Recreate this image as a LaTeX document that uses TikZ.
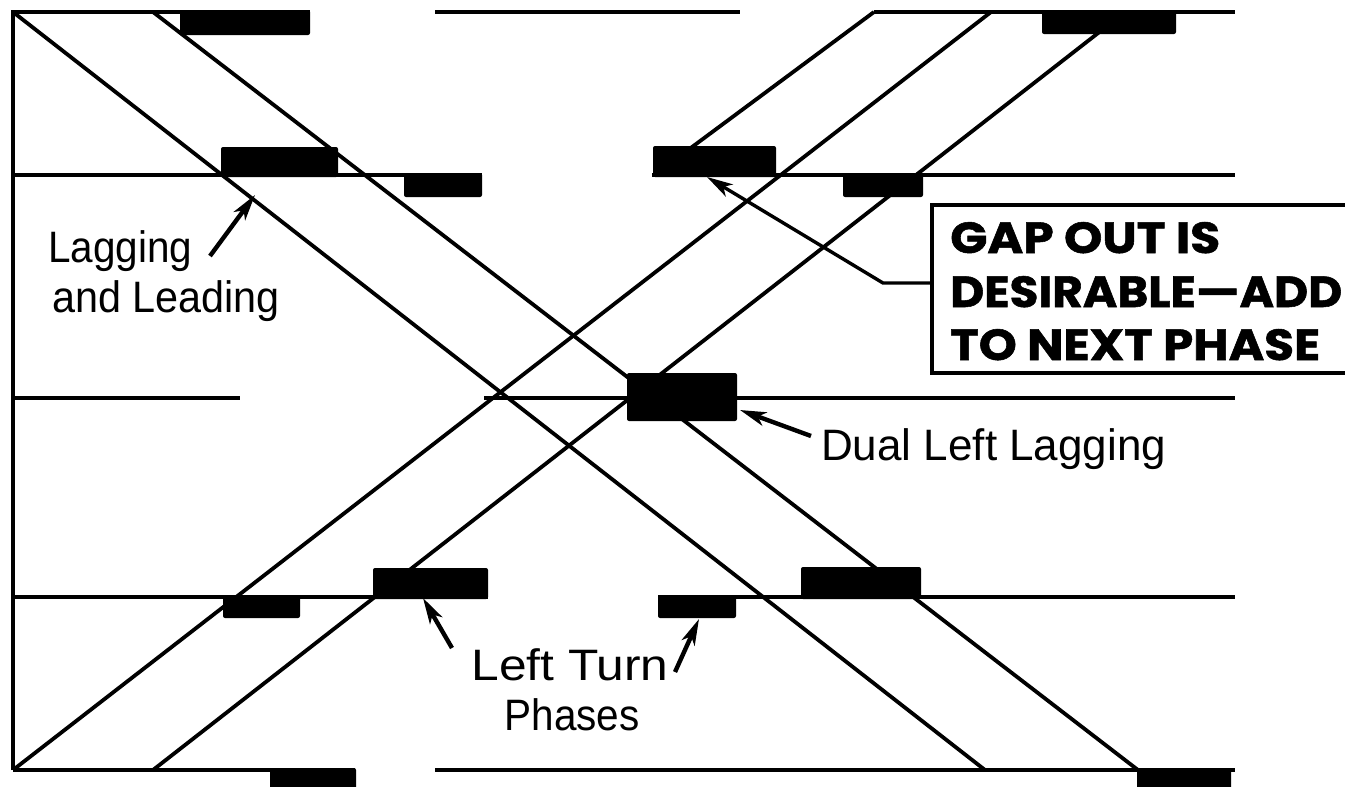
\documentclass[tikz,border=0pt]{standalone}
\usepackage{graphicx}
\usepackage{fontspec}
\setmainfont{Liberation Sans}
\newfontfamily\gapfont{Poppins}
\usetikzlibrary{arrows.meta}
\tikzset{
  road/.style={line width=3.8pt, line cap=butt},
  blk/.style={fill=black, rounded corners=2pt},
  ptr/.style={line width=4.4pt, -{Stealth[length=26pt, width=14pt, inset=7pt]}},
  lbl/.style={inner sep=0pt, font=\fontsize{44}{50}\selectfont},
  gap/.style={inner sep=0pt, font=\gapfont\bfseries\fontsize{44}{50}\selectfont\addfontfeature{FakeBold=1.2}},
}
\begin{document}
\begin{tikzpicture}[x=1pt, y=-1pt]
\useasboundingbox (0,0) rectangle (1345,787);
\clip (0,0) rectangle (1345,787);
% horizontal lines and left edge
\draw[road] (13,770) -- (13,12) -- (310,12);
\draw[road] (435,12) -- (740,12);
\draw[road] (874,12) -- (1235,12);
\draw[road] (13,175) -- (482,175);
\draw[road] (652,175) -- (1235,175);
\draw[road] (13,398) -- (240,398);
\draw[road] (484,398) -- (1235,398);
\draw[road] (13,597) -- (488,597);
\draw[road] (658,597) -- (1235,597);
\draw[road] (13,770) -- (355,770);
\draw[road] (435,770) -- (1235,770);
% diagonal bands
\draw[road] (13,12) -- (985,770);
\draw[road] (153,12) -- (1138,770);
\draw[road] (13,770) -- (991,12);
\draw[road] (153,770) -- (1102,30);
\draw[road] (688,150) -- (874,12);
% phase blocks
\fill[blk] (180,10) rectangle (310,35);
\fill[blk] (1042,10) rectangle (1176,34);
\fill[blk] (221,147) rectangle (338,177);
\fill[blk] (404,173) rectangle (482,197);
\fill[blk] (653,146) rectangle (776,177);
\fill[blk] (843,173) rectangle (923,197);
\fill[blk] (627,373) rectangle (737,421);
\fill[blk] (223,595) rectangle (300,618);
\fill[blk] (373,568) rectangle (488,599);
\fill[blk] (658,595) rectangle (736,618);
\fill[blk] (801,567) rectangle (921,599);
\fill[blk] (270,768) rectangle (356,792);
\fill[blk] (1137,768) rectangle (1231,792);
% labels
\node[lbl, anchor=base west] (lag1) at (48,262) {\scalebox{0.92}[1]{Lagging}};
\node[lbl, anchor=base west] (lag2) at (52,312) {\scalebox{0.94}[1]{and Leading}};
\node[lbl, anchor=base west] (dual) at (821,460) {Dual Left Lagging};
\node[lbl, anchor=base] (lt1) at (570,680) {\scalebox{1.13}[1]{Left Turn}};
\node[lbl, anchor=base] (lt2) at (572,730) {\scalebox{0.92}[1]{Phases}};
% pointer arrows
\coordinate (lagT) at (210,256);
\coordinate (lagH) at (255,195);
\draw[ptr] (lagT) -- (lagH);
\coordinate (dualT) at (811,436);
\coordinate (dualH) at (740,410);
\draw[ptr] (dualT) -- (dualH);
\coordinate (ltaT) at (452,648);
\coordinate (ltaH) at (423,598);
\draw[ptr] (ltaT) -- (ltaH);
\coordinate (ltbT) at (675,672);
\coordinate (ltbH) at (699,619);
\draw[ptr] (ltbT) -- (ltbH);
% gap-out box
\draw[line width=3.6pt] (1360,205) -- (932,205) -- (932,373) -- (1360,373);
\coordinate (boxL) at (932,283);
\node[gap, anchor=base west] (g1) at (950,253) {\resizebox{270pt}{31pt}{GAP OUT IS}};
\node[gap, anchor=base west] (g2) at (950,307) {\resizebox{392pt}{31pt}{DESIRABLE—ADD}};
\node[gap, anchor=base west] (g3) at (950,360) {\resizebox{370pt}{31pt}{TO NEXT PHASE}};
\coordinate (gapK) at (883,283);
\coordinate (gapH) at (707,177);
\draw[line width=3.4pt, -{Stealth[length=26pt, width=14pt, inset=7pt]}] (boxL) -- (gapK) -- (gapH);
\end{tikzpicture}
\end{document}
